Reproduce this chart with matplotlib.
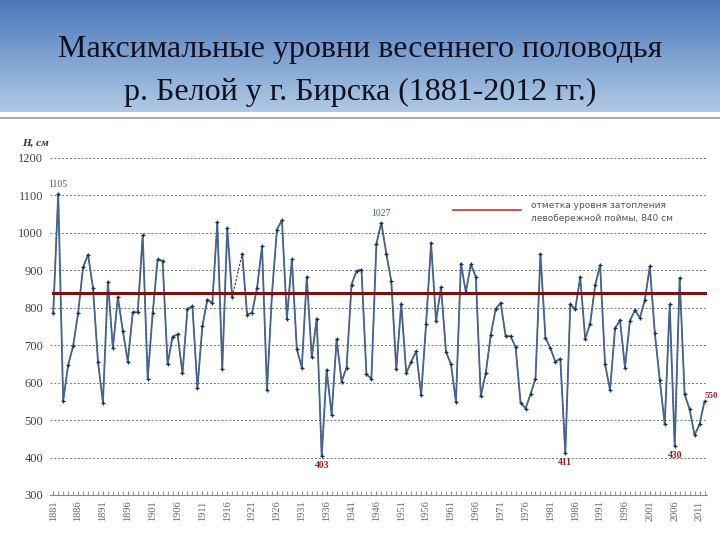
import numpy as np
import matplotlib
matplotlib.use('Agg')
import matplotlib.pyplot as plt
import matplotlib.transforms as mtransforms
from matplotlib.ticker import MultipleLocator

years = np.arange(1881, 2013)
levels = [785, 1105, 551, 647, 698, 785, 908, 942, 853, 656,
          547, 869, 692, 829, 738, 656, 788, 788, 994, 611,
          785, 929, 925, 649, 723, 729, 625, 797, 804, 585,
          751, 822, 812, 1028, 636, 1013, 828, np.nan, 944, 782,
          787, 853, 964, 580, 838, 1009, 1034, 771, 929, 689,
          640, 883, 668, 771, 403, 634, 514, 716, 603, 640,
          862, 898, 902, 622, 611, 971, 1027, 944, 871, 636,
          811, 625, 656, 684, 566, 758, 973, 764, 855, 683,
          649, 549, 918, 842, 916, 883, 564, 625, 727, 797,
          813, 724, 724, 695, 547, 531, 569, 611, 944, 720,
          692, 656, 664, 411, 809, 796, 882, 717, 758, 860,
          914, 649, 580, 745, 767, 640, 766, 793, 773, 820,
          911, 733, 607, 489, 809, 430, 880, 569, 529, 460,
          489, 550]
levels = np.array(levels, dtype=float)
flood_level = 840

labels_top = {1882: '1105', 1947: '1027'}
labels_low = {1935: '403', 1984: '411', 2006: '430'}

fig = plt.figure(figsize=(7.2, 5.4), dpi=100)

# header gradient
hax = fig.add_axes([0, 1 - 112 / 540, 1, 112 / 540])
grad = np.linspace(0, 1, 100).reshape(-1, 1)
top = np.array([0.29, 0.47, 0.73])
bot = np.array([0.69, 0.79, 0.90])
img = top + (bot - top) * grad[:, :, None]
hax.imshow(img, aspect='auto', extent=[0, 1, 0, 1])
hax.axis('off')
fig.text(0.5, 1 - 50 / 540, 'Максимальные уровни весеннего половодья',
         ha='center', va='center', fontsize=23, family='Liberation Serif', color='#111122')
fig.text(0.5, 1 - 92 / 540, 'р. Белой у г. Бирска (1881-2012 гг.)',
         ha='center', va='center', fontsize=23, family='Liberation Serif', color='#111122')
fig.add_artist(plt.Line2D([0, 1], [1 - 118 / 540, 1 - 118 / 540], color='#999999', lw=1.2))

ax = fig.add_axes([50 / 720, 1 - 495 / 540, 657 / 720, 337 / 540])
ok = ~np.isnan(levels)
ax.plot(years[ok], levels[ok], color='#333333', lw=0.8, ls=(0, (2, 1.5)), zorder=2)
ax.plot(years, levels, color='#45658c', lw=1.3, marker='+', ms=3.5, mew=0.9,
        mec='#1f2f44', zorder=3)
ax.plot([1881, 2012], [flood_level, flood_level], color='#7a1212', lw=2.2, zorder=4)

for yr, txt in labels_top.items():
    v = levels[yr - 1881]
    ax.text(yr, v + 12, txt, ha='center', va='bottom', fontsize=7,
            family='Liberation Serif', color='#3f5f86')
for yr, txt in labels_low.items():
    v = levels[yr - 1881]
    ax.text(yr, v - 12, txt, ha='center', va='top', fontsize=7,
            family='Liberation Serif', color='#a02020', fontweight='bold')
blend = mtransforms.blended_transform_factory(fig.transFigure, ax.transData)
ax.text(0.997, levels[-1] + 5, '550', ha='right', va='bottom', fontsize=6.5,
        family='Liberation Serif', color='#a02020', fontweight='bold', transform=blend)

# legend
ax.plot([1961.5, 1975], [1060, 1060], color='#c0392b', lw=1.2)
ax.text(1977, 1072, 'отметка уровня затопления', fontsize=6.5, color='#555555', va='center')
ax.text(1977, 1038, 'левобережной поймы, 840 см', fontsize=6.5, color='#555555', va='center')

ax.set_xlim(1880.35, 2012.5)
ax.set_ylim(300, 1200)
ax.yaxis.set_major_locator(MultipleLocator(100))
ax.set_xticks(np.arange(1881, 2012, 5))
ax.xaxis.set_minor_locator(MultipleLocator(1))
ax.tick_params(axis='x', which='both', direction='in', length=3, color='#888888',
               labelsize=7.5, labelcolor='#666666', rotation=90, pad=4)
ax.tick_params(axis='y', length=0, labelsize=9, labelcolor='#444444', pad=5)
for lab in ax.get_xticklabels() + ax.get_yticklabels():
    lab.set_family('Liberation Serif')
ax.grid(axis='y', ls=(0, (2, 2)), color='#777777', lw=0.7)
ax.set_axisbelow(True)
for s in ['top', 'right', 'left']:
    ax.spines[s].set_visible(False)
ax.spines['bottom'].set_color('#888888')
fig.canvas.draw()
ax.get_ygridlines()[1].set_visible(False)
ax.get_ygridlines()[0].set_visible(False)

fig.text(22 / 720, 1 - 143 / 540, 'H, см', fontsize=8, family='Liberation Serif',
         style='italic', fontweight='bold', color='#333333', va='center')

fig.savefig('out.png', dpi=100)
